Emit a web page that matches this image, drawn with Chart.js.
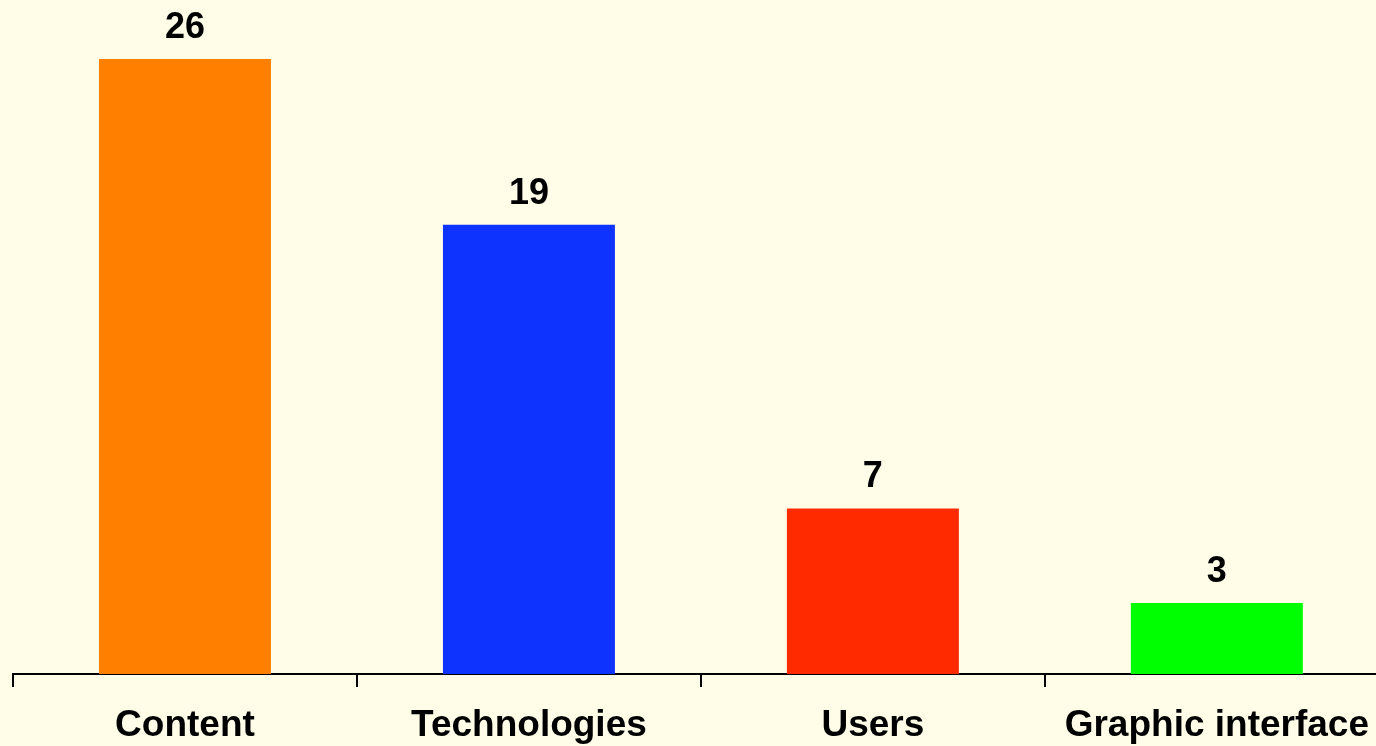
<!DOCTYPE html>
<html>
<head>
<meta charset="utf-8">
<script src="https://cdn.jsdelivr.net/npm/chart.js@4"></script>
<style>
  html, body { margin: 0; padding: 0; background: #FFFDE8; overflow: hidden; }
  #wrap { position: relative; width: 1389px; height: 746px; }
</style>
</head>
<body>
<div id="wrap"><canvas id="c"></canvas></div>
<script>
const categories = ["Content", "Technologies", "Users", "Graphic interface"];
const values = [26, 19, 7, 3];
const barColors = ["#FF7F00", "#0F33FF", "#FF2A00", "#00FF00"];

const valueLabels = {
  id: 'valueLabels',
  afterDatasetsDraw(chart) {
    const ctx = chart.ctx;
    const meta = chart.getDatasetMeta(0);
    ctx.save();
    ctx.font = 'bold 36px "Liberation Sans", Arial, sans-serif';
    ctx.fillStyle = '#000';
    ctx.textAlign = 'center';
    ctx.textBaseline = 'alphabetic';
    meta.data.forEach((bar, i) => {
      ctx.fillText(String(values[i]), bar.x, bar.y - 21);
    });
    ctx.restore();
  }
};

new Chart(document.getElementById('c'), {
  type: 'bar',
  data: {
    labels: categories,
    datasets: [{
      data: values,
      backgroundColor: barColors,
      borderWidth: 0,
      barPercentage: 0.5,
      categoryPercentage: 1.0
    }]
  },
  options: {
    responsive: true,
    maintainAspectRatio: false,
    animation: false,
    layout: { padding: { left: 13, right: 0, top: 0, bottom: -18 } },
    plugins: { legend: { display: false }, tooltip: { enabled: false } },
    scales: {
      y: { display: false, min: 0, max: 28.5 },
      x: {
        border: { display: true, color: '#000', width: 2 },
        grid: { drawOnChartArea: false, drawTicks: true, tickLength: 13, color: '#000', lineWidth: 2, offset: true },
        ticks: {
          color: '#000',
          padding: 20,
          maxRotation: 0,
          autoSkip: false,
          font: { family: '"Liberation Sans", Arial, sans-serif', size: 37, weight: 'bold', lineHeight: 1 }
        }
      }
    }
  },
  plugins: [valueLabels]
});
</script>
</body>
</html>
